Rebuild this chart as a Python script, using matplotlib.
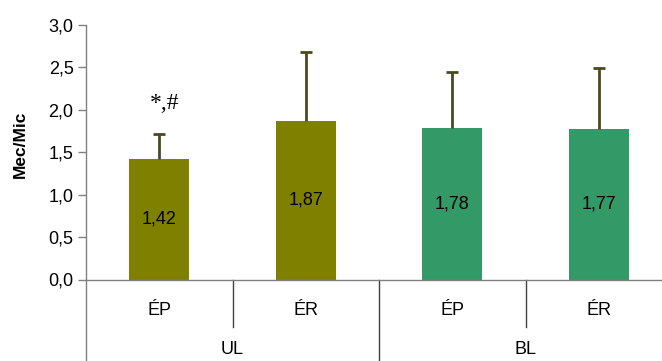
import matplotlib
matplotlib.use("Agg")
import matplotlib.pyplot as plt

# ratio Mec/Mic per group and condition
groups = ["UL", "BL"]
conditions = ["ÉP", "ÉR", "ÉP", "ÉR"]
means = [1.42, 1.87, 1.78, 1.77]
sd_upper = [0.30, 0.81, 0.67, 0.72]
bar_colors = ["#808000", "#808000", "#339966", "#339966"]
yticks = [0.0, 0.5, 1.0, 1.5, 2.0, 2.5, 3.0]

plt.rcParams["font.family"] = ["Liberation Sans", "DejaVu Sans"]

W, H = 662, 361
fig = plt.figure(figsize=(W / 100, H / 100), dpi=100)
ax = fig.add_axes([86 / W, 1 - 279.5 / H, (672 - 86) / W, (279.5 - 25) / H])

axis_col = "#808080"
err_col = "#4a4a1f"
x = list(range(len(means)))
ax.bar(x, means, width=0.41, color=bar_colors, zorder=2)

# upper-only error bars
tops = [m + s for m, s in zip(means, sd_upper)]
ax.vlines(x, means, tops, color=err_col, lw=2, zorder=3)
ax.hlines(tops, [xi - 0.042 for xi in x], [xi + 0.042 for xi in x],
          color=err_col, lw=2, zorder=3)

for xi, m in zip(x, means):
    ax.text(xi, m / 2, f"{m:.2f}".replace(".", ","), ha="center", va="center",
            fontsize=13, color="black", zorder=4)

ax.text(0.034, 2.08, "*,#", ha="center", va="center", fontsize=17,
        family=["Liberation Serif", "DejaVu Serif"])

ax.set_xlim(-0.5, 3.5)
ax.set_ylim(0, 3.0)
ax.set_yticks(yticks)
ax.set_yticklabels([f"{t:.1f}".replace(".", ",") for t in yticks], fontsize=13)
ax.set_xticks([])
ax.tick_params(axis="y", length=6, color=axis_col, width=1, pad=3)
ax.set_ylabel("Mec/Mic", fontsize=12.5, fontweight="bold")
ax.yaxis.set_label_coords(-0.10, 0.53)

for side in ["top", "right"]:
    ax.spines[side].set_visible(False)
for side in ["left", "bottom"]:
    ax.spines[side].set_color(axis_col)
    ax.spines[side].set_linewidth(1)

# category axis below the plot: condition and group rows
ax.plot([-0.5, -0.5], [0, -1.0], color=axis_col, lw=1, clip_on=False)
for sep in [0.5, 2.5]:
    ax.plot([sep, sep], [0, -0.56], color="#404040", lw=1, clip_on=False)
ax.plot([1.5, 1.5], [0, -1.0], color="#404040", lw=1, clip_on=False)
for xi, c in zip(x, conditions):
    ax.text(xi, -0.36, c, ha="center", va="center", fontsize=13)
for gi, g in enumerate(groups):
    ax.text(gi * 2 + 0.5, -0.83, g, ha="center", va="center", fontsize=13)

fig.savefig("out.png", dpi=100)
